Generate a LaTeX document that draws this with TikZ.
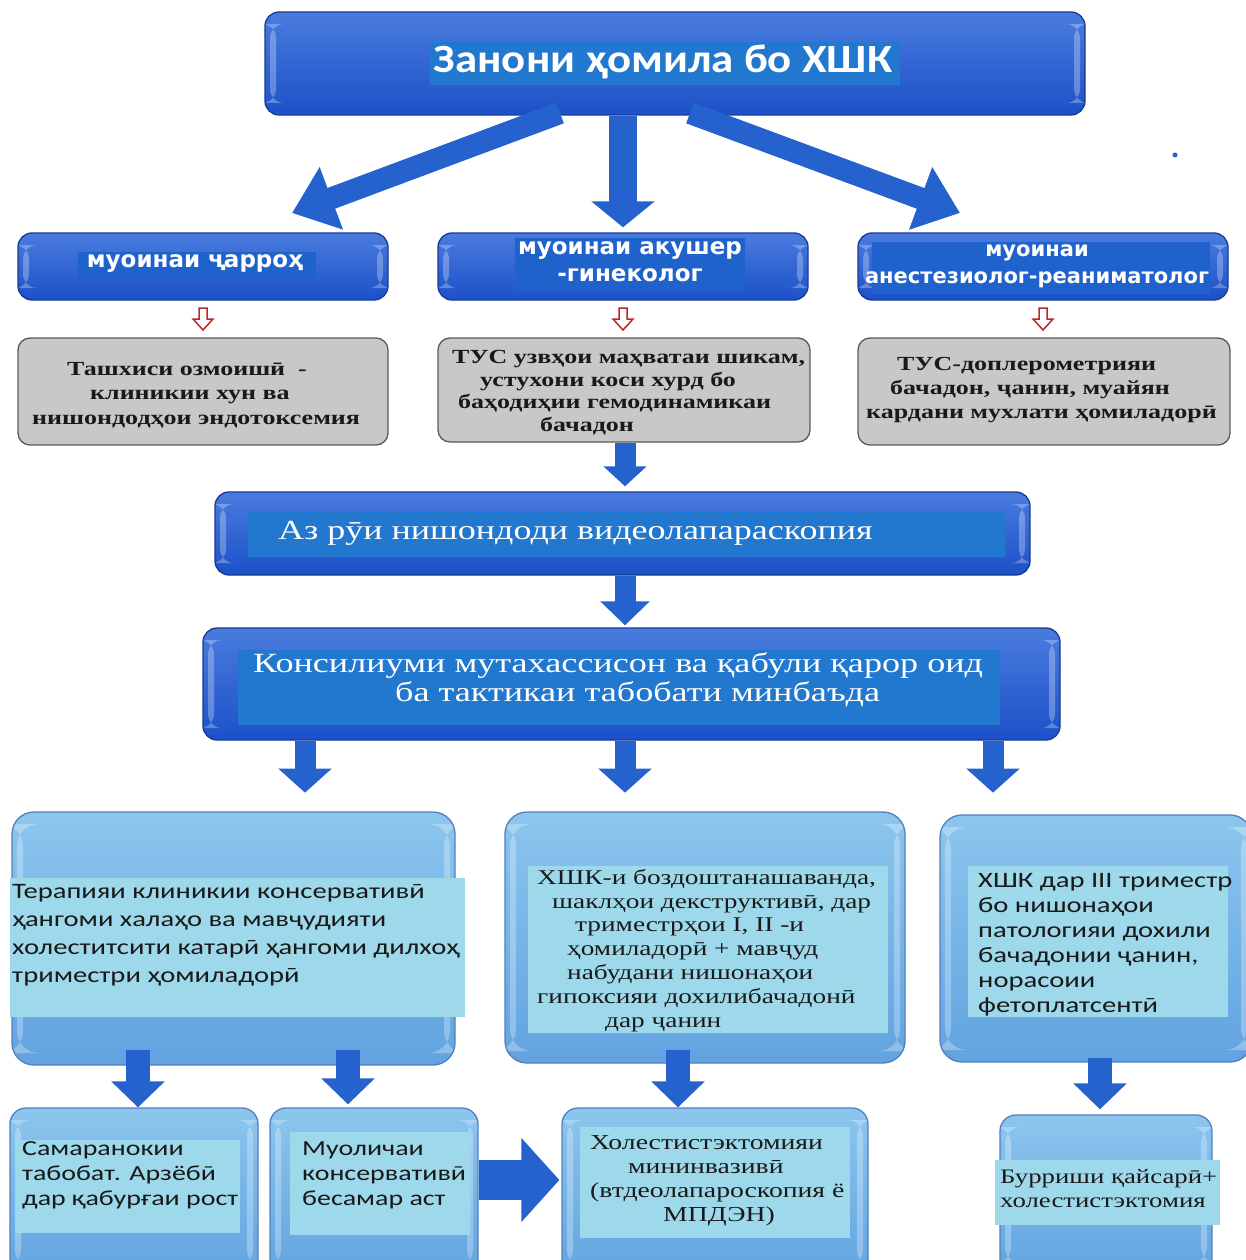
\documentclass[tikz,border=0pt]{standalone}
\usepackage{fontspec}
\setmainfont{Liberation Serif}
\newfontfamily\serifW[FakeStretch=1.3]{Liberation Serif}
\newfontfamily\sansW[FakeStretch=1.3]{Carlito}
\newfontfamily\titlef[FakeStretch=1.12]{Carlito}
\newfontfamily\specf{DejaVu Sans}
\usetikzlibrary{arrows.meta,calc}
\definecolor{dkTop}{RGB}{74,124,222}
\definecolor{dkBot}{RGB}{28,80,200}
\definecolor{dkEdge}{RGB}{24,58,150}
\definecolor{hlDark}{RGB}{34,120,206}
\definecolor{arrowC}{RGB}{38,98,205}
\definecolor{ltTop}{RGB}{140,198,238}
\definecolor{ltBot}{RGB}{98,163,224}
\definecolor{ltEdge}{RGB}{80,128,190}
\definecolor{hlLight}{RGB}{158,217,235}
\definecolor{greyF}{RGB}{200,200,200}
\definecolor{greyE}{RGB}{90,90,90}
\definecolor{redA}{RGB}{185,40,40}
\definecolor{txtD}{RGB}{25,25,25}
\tikzset{
  gloss/.style={path picture={
    \fill[white,opacity=0.28] ([xshift=5pt,yshift=-12pt]path picture bounding box.north west) rectangle ([xshift=11pt,yshift=12pt]path picture bounding box.south west);
    \fill[white,opacity=0.28] ([xshift=-11pt,yshift=-12pt]path picture bounding box.north east) rectangle ([xshift=-5pt,yshift=12pt]path picture bounding box.south east);}},
  darkbox/.style={rounded corners=14pt, draw=dkEdge, line width=1.3pt, top color=dkTop, bottom color=dkBot, inner sep=0pt, gloss},
  lightbox/.style={rounded corners=22pt, draw=ltEdge, line width=1.3pt, top color=ltTop, bottom color=ltBot, inner sep=0pt, gloss},
  greybox/.style={rounded corners=12pt, draw=greyE, line width=1.3pt, fill=greyF, inner sep=0pt},
  bigarrow/.style={draw=arrowC, line width=#1},
  txt/.style={inner sep=0pt, align=left},
  redarr/.pic={\draw[redA, fill=white, line width=1.5pt] (-4,-11) -- (4,-11) -- (4,0) -- (10,0) -- (0,11) -- (-10,0) -- (-4,0) -- cycle;}
}
\begin{document}
\begin{tikzpicture}[x=1pt,y=-1pt]
\clip (0,0) rectangle (1246,1260);
\fill[white] (0,0) rectangle (1246,1260);

% ---- title
\node[darkbox, minimum width=820pt, minimum height=103pt] (title) at (675,63.5) {};
\fill[hlDark] (430,42) rectangle (900,85);
\node[txt, text=white, font=\titlef\bfseries\fontsize{40}{46}\selectfont] (titletxt) at (663,62) {Занони ҳомила бо ХШК};

% ---- specialist boxes
\node[darkbox, minimum width=370pt, minimum height=67pt] (s1) at (203,266.5) {};
\node[darkbox, minimum width=370pt, minimum height=67pt] (s2) at (623,266.5) {};
\node[darkbox, minimum width=370pt, minimum height=67pt] (s3) at (1043,266.5) {};
\fill[hlDark!45!dkBot] (78,252) rectangle (316,280);
\fill[hlDark!45!dkBot] (515,238) rectangle (745,290);
\fill[hlDark!45!dkBot] (872,242) rectangle (1210,294);
\node[txt, align=center, text=white, font=\specf\bfseries\fontsize{23}{27}\selectfont] at (195,264) {муоинаи ҷарроҳ};
\node[txt, align=center, text=white, font=\specf\bfseries\fontsize{23}{27}\selectfont] at (630,262) {муоинаи акушер\\-гинеколог};
\node[txt, align=center, text=white, font=\specf\bfseries\fontsize{21}{27}\selectfont] at (1037,266) {муоинаи\\анестезиолог-реаниматолог};

% ---- arrows from title
\coordinate (d1a) at (560,113);
\coordinate (d1b) at (292,213);
\coordinate (d3a) at (690,113);
\coordinate (d3b) at (960,213);
\draw[bigarrow=22pt, -{Triangle[length=42pt,width=64pt]}] (d1a) -- (d1b);
\draw[bigarrow=22pt, -{Triangle[length=42pt,width=64pt]}] (d3a) -- (d3b);
\draw[bigarrow=28pt, -{Triangle[length=26pt,width=62pt]}] (title.south -| s2.north) -- ([yshift=5pt]s2.north);

% ---- red small arrows
\pic at (203,319) {redarr};
\pic at (623,319) {redarr};
\pic at (1043,319) {redarr};

% ---- grey boxes
\node[greybox, minimum width=370pt, minimum height=107pt] (g1) at (203,391.5) {};
\node[greybox, minimum width=372pt, minimum height=104pt] (g2) at (624,390) {};
\node[greybox, minimum width=372pt, minimum height=107pt] (g3) at (1044,391.5) {};
\node[txt, anchor=west, text=txtD, font=\serifW\bfseries\fontsize{20}{24.5}\selectfont] at (32,394.7)
  {\hspace*{35pt}Ташхиси озмоишӣ~~-\\\hspace*{58pt}клиникии хун ва\\нишондодҳои эндотоксемия};
\node[txt, anchor=west, text=txtD, font=\serifW\bfseries\fontsize{20}{22.7}\selectfont] at (452,392.7)
  {ТУС узвҳои маҳватаи шикам,\\\hspace*{28pt}устухони коси хурд бо\\\hspace*{6pt}баҳодиҳии гемодинамикаи\\\hspace*{88pt}бачадон};
\node[txt, anchor=west, text=txtD, font=\serifW\bfseries\fontsize{20}{24}\selectfont] at (866,390)
  {\hspace*{31pt}ТУС-доплерометрияи\\\hspace*{24pt}бачадон, ҷанин, муайян\\кардани мухлати ҳомиладорӣ};

% ---- video laparoscopy
\node[darkbox, minimum width=815pt, minimum height=83pt] (m1) at (622.5,533.5) {};
\fill[hlDark] (248,512) rectangle (1005,557);
\node[txt, anchor=west, text=white, font=\serifW\fontsize{27.7}{30}\selectfont] at (278,533) {Аз рӯи нишондоди видеолапараскопия};
\draw[bigarrow=21pt, -{Triangle[length=20pt,width=42pt]}] (g2.south -| 625,0) -- ([yshift=5pt]m1.north -| 625,0);

% ---- council
\node[darkbox, minimum width=857pt, minimum height=112pt] (m2) at (631.5,684) {};
\fill[hlDark] (238,650) rectangle (1000,725);
\node[txt, anchor=west, text=white, font=\serifW\fontsize{27.8}{29}\selectfont] at (253,679.5)
  {Консилиуми мутахассисон ва қабули қарор оид\\\hspace*{142pt}ба тактикаи табобати минбаъда};
\draw[bigarrow=21pt, -{Triangle[length=24pt,width=48pt]}] (m1.south -| 625,0) -- ([yshift=2pt]m2.north -| 625,0);

% ---- light boxes
\node[lightbox, minimum width=443pt, minimum height=253pt] (L1) at (233.5,938.5) {};
\node[lightbox, minimum width=400pt, minimum height=251pt] (L2) at (705,937.5) {};
\node[lightbox, minimum width=312pt, minimum height=247pt] (L3) at (1096,938.5) {};
\fill[hlLight] (10,878) rectangle (465,1017);
\fill[hlLight] (528,866) rectangle (888,1033);
\fill[hlLight] (968,866) rectangle (1228,1017);
\node[txt, anchor=west, text=txtD, font=\sansW\fontsize{22}{28}\selectfont] at (12,935)
  {Терапияи клиникии консервативӣ\\ҳангоми халаҳо ва мавҷудияти\\холеститсити катарӣ ҳангоми дилхоҳ\\триместри ҳомиладорӣ};
\node[txt, anchor=west, text=txtD, font=\serifW\fontsize{21}{23.8}\selectfont] at (537,950.5)
  {ХШК-и боздоштанашаванда,\\\hspace*{15pt}шаклҳои декструктивӣ, дар\\\hspace*{38pt}триместрҳои I, II -и\\\hspace*{30pt}ҳомиладорӣ + мавҷуд\\\hspace*{30pt}набудани нишонаҳои\\гипоксияи дохилибачадонӣ\\\hspace*{68pt}дар ҷанин};
\node[txt, anchor=west, text=txtD, font=\sansW\fontsize{22}{25}\selectfont] at (978,944.5)
  {ХШК дар III триместр\\бо нишонаҳои\\патологияи дохили\\бачадонии ҷанин,\\норасоии\\фетоплатсентӣ};

\draw[bigarrow=21pt, -{Triangle[length=24pt,width=52pt]}] (m2.south -| 305,0) -- ([yshift=-52pt]m2.south -| 305,0);
\draw[bigarrow=21pt, -{Triangle[length=24pt,width=52pt]}] (m2.south -| 625,0) -- ([yshift=-52pt]m2.south -| 625,0);
\draw[bigarrow=21pt, -{Triangle[length=24pt,width=52pt]}] (m2.south -| 993,0) -- ([yshift=-52pt]m2.south -| 993,0);

% ---- bottom boxes
\node[lightbox, rounded corners=16pt, minimum width=248pt, minimum height=170pt] (B1) at (134,1193) {};
\node[lightbox, rounded corners=16pt, minimum width=208pt, minimum height=170pt] (B2) at (374,1193) {};
\node[lightbox, rounded corners=16pt, minimum width=306pt, minimum height=170pt] (B3) at (715,1193) {};
\node[lightbox, rounded corners=16pt, minimum width=212pt, minimum height=160pt] (B4) at (1106,1195) {};
\fill[hlLight] (15,1140) rectangle (240,1233);
\fill[hlLight] (290,1132) rectangle (470,1235);
\fill[hlLight] (580,1127) rectangle (850,1238);
\fill[hlLight] (995,1160) rectangle (1220,1225);
\node[txt, anchor=west, text=txtD, font=\sansW\fontsize{21.5}{25}\selectfont] at (22,1175)
  {Самаранокии\\табобат. Арзёбӣ\\дар қабурғаи рост};
\node[txt, anchor=west, text=txtD, font=\sansW\fontsize{21.5}{25}\selectfont] at (302,1175)
  {Муоличаи\\консервативӣ\\бесамар аст};
\node[txt, anchor=west, text=txtD, font=\serifW\fontsize{21.3}{24}\selectfont] at (590,1181)
  {Холестистэктомияи\\\hspace*{38pt}мининвазивӣ\\(втдеолапароскопия ё\\\hspace*{73pt}МПДЭН)};
\node[txt, anchor=west, text=txtD, font=\serifW\fontsize{20.6}{24}\selectfont] at (1000,1189)
  {Бурриши қайсарӣ+\\холестистэктомия};

% ---- arrows to bottom boxes
\draw[bigarrow=24pt, -{Triangle[length=26pt,width=52pt]}] (138,1050) -- (B1.north -| 138,0);
\draw[bigarrow=24pt, -{Triangle[length=26pt,width=52pt]}] (348,1050) -- ([yshift=3pt]B2.north -| 348,0);
\draw[bigarrow=24pt, -{Triangle[length=26pt,width=52pt]}] (678,1050) -- (B3.north -| 678,0);
\draw[bigarrow=24pt, -{Triangle[length=26pt,width=52pt]}] (1100,1058) -- ([yshift=5pt]B4.north -| 1100,0);
\draw[bigarrow=40pt, -{Triangle[length=38pt,width=82pt]}] (B2.east |- 0,1180) -- ([xshift=-2pt]B3.west |- 0,1180);

\fill[arrowC] (1175,155) circle (2.5);
\end{tikzpicture}
\end{document}
